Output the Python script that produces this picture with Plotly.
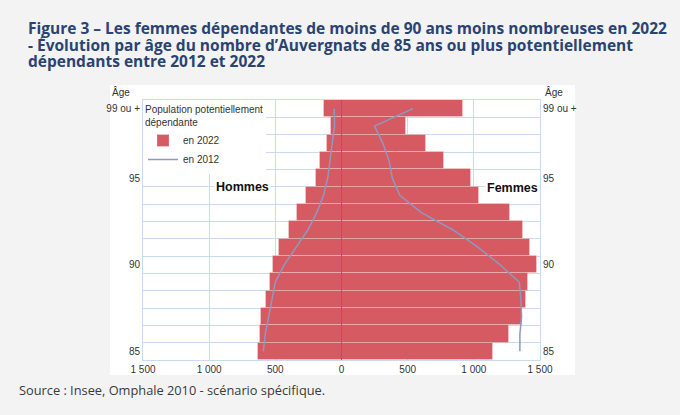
import numpy as np
import plotly.graph_objects as go

# ages 85 .. 99 (the last row is "99 ou +")
ages = [85, 86, 87, 88, 89, 90, 91, 92, 93, 94, 95, 96, 97, 98, 99]
age_ticks = [85, 90, 95, 99]
age_labels = ["85", "90", "95", "99 ou +"]

# population potentiellement dependante, en 2022 (barres)
hommes_2022 = [634, 616, 608, 570, 540, 515, 470, 394, 336, 268, 192, 161, 111, 78, 134]
femmes_2022 = [1146, 1265, 1364, 1394, 1409, 1480, 1427, 1369, 1273, 1040, 982, 775, 636, 490, 920]

# en 2012 (ligne)
hommes_2012 = [591, 576, 550, 525, 500, 432, 343, 255, 187, 136, 104, 86, 66, 53, 55]
femmes_2012 = [1348, 1348, 1361, 1356, 1343, 1197, 1033, 843, 604, 440, 384, 359, 313, 250, 540]

x_ticks = [-1500, -1000, -500, 0, 500, 1000, 1500]
x_labels = ["1 500", "1 000", "500", "0", "500", "1 000", "1 500"]

RED = "#d65a61"
LINE = "#8e98c0"
GRID = "#c9dbf0"
TXT = "#333333"
NAVY = "#2a4372"
FONT = "Liberation Sans, Arial, sans-serif"

# plot area in pixels: x 143..540, y 100..360
def px(x):
    return (x - 143) / 397.0

def py(y):
    return (360 - y) / 260.0

fig = go.Figure()

fig.add_trace(go.Bar(y=ages, x=-np.array(hommes_2022), orientation="h", marker_color=RED,
                     marker_line=dict(color="rgba(255,255,255,0.25)", width=1),
                     name="en 2022", legendgroup="2022", hoverinfo="skip"))
fig.add_trace(go.Bar(y=ages, x=femmes_2022, orientation="h", marker_color=RED,
                     marker_line=dict(color="rgba(255,255,255,0.25)", width=1),
                     name="en 2022", legendgroup="2022", showlegend=False, hoverinfo="skip"))
fig.add_trace(go.Scatter(y=ages, x=-np.array(hommes_2012), mode="lines",
                         line=dict(color=LINE, width=1.5), name="en 2012", legendgroup="2012"))
fig.add_trace(go.Scatter(y=ages, x=femmes_2012, mode="lines",
                         line=dict(color=LINE, width=1.5), name="en 2012", legendgroup="2012",
                         showlegend=False))
# invisible trace so the right-hand age axis is drawn
fig.add_trace(go.Scatter(y=ages, x=[0] * len(ages), yaxis="y2", mode="markers",
                         marker=dict(opacity=0), showlegend=False, hoverinfo="skip"))

fig.add_vline(x=0, line=dict(color="rgba(95,85,85,0.75)", width=1))

# white panel behind the chart
fig.add_shape(type="rect", xref="paper", yref="paper", layer="below",
              x0=px(110), x1=px(575), y0=py(375), y1=py(85),
              fillcolor="white", line_width=0)

title_lines = [
    "Figure 3 – Les femmes dépendantes de moins de 90 ans moins nombreuses en 2022",
    "- Évolution par âge du nombre d’Auvergnats de 85 ans ou plus potentiellement",
    "dépendants entre 2012 et 2022",
]
for i, t in enumerate(title_lines):
    fig.add_annotation(text="<b>" + t + "</b>", xref="paper", yref="paper",
                       x=px(26), y=py(28 + i * 16.5), xanchor="left", yanchor="middle",
                       showarrow=False, font=dict(family="Open Sans", size=15.5, color=NAVY))

fig.add_annotation(text="Source : Insee, Omphale 2010 - scénario spécifique.", xref="paper", yref="paper",
                   x=px(17), y=py(390), xanchor="left", yanchor="middle", showarrow=False,
                   font=dict(family="Open Sans", size=12.8, color="#3a3a3a"))

fig.add_annotation(text="Âge", xref="paper", yref="paper", x=px(121), y=py(92),
                   xanchor="center", yanchor="middle",
                   showarrow=False, font=dict(family=FONT, size=10, color=TXT))
fig.add_annotation(text="Âge", xref="paper", yref="paper", x=px(543), y=py(92),
                   xanchor="left", yanchor="middle",
                   showarrow=False, font=dict(family=FONT, size=10, color=TXT))

fig.add_annotation(text="<b>Hommes</b>", x=-750, y=94.5, showarrow=False, bgcolor="white",
                   xanchor="center", yanchor="middle",
                   font=dict(family=FONT, size=12.5, color="#111111"))
fig.add_annotation(text="<b>Femmes</b>", x=1290, y=94.4, showarrow=False, bgcolor="white",
                   xanchor="center", yanchor="middle",
                   font=dict(family=FONT, size=12.5, color="#111111"))

yaxis_common = dict(range=[84.5, 99.5], tickvals=age_ticks, ticktext=age_labels, showgrid=False,
                    zeroline=False, ticks="", tickfont=dict(family=FONT, size=10, color=TXT),
                    showline=True, linecolor=GRID, linewidth=1,
                    minor=dict(tick0=0.5, dtick=1, showgrid=True, gridcolor=GRID, gridwidth=1, ticks=""))

fig.update_layout(
    width=680, height=415,
    margin=dict(l=143, r=140, t=100, b=55),
    paper_bgcolor="#f3f3f3",
    plot_bgcolor="white",
    barmode="overlay",
    bargap=0,
    showlegend=True,
    xaxis=dict(range=[-1500, 1500], tickvals=x_ticks, ticktext=x_labels, showgrid=True,
               gridcolor=GRID, gridwidth=1, zeroline=False, ticks="",
               showline=True, linecolor=GRID, mirror=True,
               tickfont=dict(family=FONT, size=10, color=TXT)),
    yaxis=dict(side="left", **yaxis_common),
    yaxis2=dict(side="right", overlaying="y", matches="y", **yaxis_common),
    legend=dict(x=0, y=1, xanchor="left", yanchor="top", bgcolor="white",
                font=dict(family=FONT, size=10, color=TXT),
                title=dict(text="Population potentiellement<br>dépendante",
                           font=dict(family=FONT, size=10, color=TXT)),
                itemwidth=30, tracegroupgap=0),
)

fig.write_html("out.html", config={"displayModeBar": False},
               post_script="document.body.style.margin='0';")
